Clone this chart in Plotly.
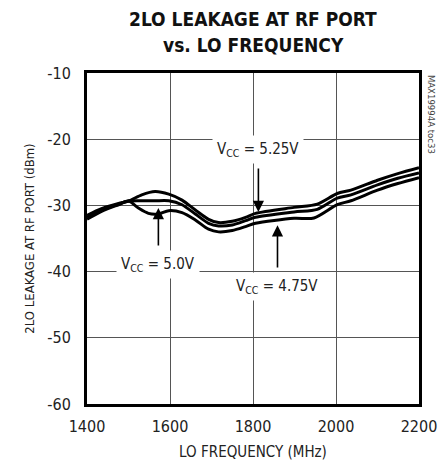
import plotly.graph_objects as go

freq_hi = [1400, 1435, 1476, 1500, 1532, 1564, 1597, 1629, 1661, 1693, 1717, 1750, 1782, 1806, 1899, 1955, 2003, 2036, 2100, 2149, 2200]
vcc_525 = [-31.5, -30.5, -29.7, -29.35, -28.4, -27.9, -28.3, -29.2, -30.7, -32.1, -32.6, -32.4, -31.8, -31.2, -30.3, -29.8, -28.2, -27.7, -26.2, -25.2, -24.3]

freq_mid = [1400, 1435, 1476, 1500, 1532, 1564, 1597, 1629, 1661, 1693, 1717, 1750, 1782, 1806, 1899, 1955, 2003, 2036, 2100, 2149, 2200]
vcc_500 = [-31.8, -30.7, -29.8, -29.35, -29.3, -29.3, -29.3, -29.9, -31.3, -32.7, -33.1, -32.95, -32.3, -31.8, -31.0, -30.6, -28.9, -28.4, -26.9, -25.9, -25.1]

freq_lo = [1400, 1435, 1476, 1500, 1524, 1548, 1572, 1597, 1629, 1661, 1693, 1717, 1750, 1782, 1806, 1899, 1947, 2003, 2036, 2100, 2149, 2200]
vcc_475 = [-32.1, -30.9, -29.9, -29.35, -30.4, -31.2, -31.3, -30.8, -31.1, -32.2, -33.6, -34.0, -33.8, -33.2, -32.7, -31.95, -31.9, -29.9, -29.3, -27.7, -26.7, -25.8]

x_ticks = [1400, 1600, 1800, 2000, 2200]
y_ticks = [-60, -50, -40, -30, -20, -10]
y_tick_text = ["-60", "-50", "-40", "-30", "-20", "-10"]

title_lines = ["2LO LEAKAGE AT RF PORT", "vs. LO FREQUENCY"]

FONT = "DejaVu Sans Condensed, Liberation Sans Narrow, Arial Narrow, Liberation Sans, sans-serif"

fig = go.Figure()
for xs, ys in [(freq_hi, vcc_525), (freq_mid, vcc_500), (freq_lo, vcc_475)]:
    fig.add_trace(go.Scatter(x=xs, y=ys, mode="lines",
                             line=dict(color="black", width=3, shape="spline", smoothing=0.8),
                             showlegend=False, hoverinfo="skip"))

labels = [
    dict(text="V<sub>CC</sub> = 5.25V", x=1813, y=-21.6, tip=(1813, -31.0), tail=(1813, -24.2)),
    dict(text="V<sub>CC</sub> = 5.0V", x=1572, y=-39.0, tip=(1572, -30.4), tail=(1572, -36.3)),
    dict(text="V<sub>CC</sub> = 4.75V", x=1859, y=-42.3, tip=(1859, -33.0), tail=(1859, -39.6)),
]
for lb in labels:
    fig.add_annotation(x=lb["tip"][0], y=lb["tip"][1], ax=lb["tail"][0], ay=lb["tail"][1],
                       axref="x", ayref="y", xref="x", yref="y", text="",
                       showarrow=True, arrowhead=2, arrowsize=1.4, arrowwidth=1.6,
                       arrowcolor="black")
    fig.add_annotation(x=lb["x"], y=lb["y"], xref="x", yref="y", text=lb["text"],
                       showarrow=False, bgcolor="white", borderpad=4,
                       font=dict(family=FONT, size=15, color="#222"))

fig.add_annotation(x=1.038, y=1.0, xref="paper", yref="paper", text="MAX19994A toc33",
                   textangle=90, showarrow=False, xanchor="center", yanchor="top",
                   font=dict(family=FONT, size=9.5, color="#444"))

# title as two centred annotation lines (page body has an 8px default margin)
for txt, py in zip(title_lines, [1.163, 1.085]):
    fig.add_annotation(x=0.5, y=py, xref="paper", yref="paper", text="<b>" + txt + "</b>",
                       showarrow=False, xanchor="center", yanchor="middle",
                       font=dict(family=FONT, size=19, color="#111"))

fig.update_layout(
    width=438, height=453,
    margin=dict(l=79, r=27, t=65, b=57, autoexpand=False),
    paper_bgcolor="white", plot_bgcolor="white",
    font=dict(family=FONT, color="#222"),
)
fig.update_xaxes(range=[1400, 2200], tickvals=x_ticks, ticks="", showgrid=True,
                 gridcolor="#555", gridwidth=1, showline=True, linecolor="black",
                 linewidth=3, mirror=True, zeroline=False, ticklabelstandoff=6,
                 automargin=False,
                 tickfont=dict(family=FONT, size=16, color="#222"),
                 title=dict(text="LO FREQUENCY (MHz)", standoff=12,
                            font=dict(family=FONT, size=15, color="#222")))
fig.update_yaxes(range=[-60, -10], tickvals=y_ticks, ticktext=y_tick_text, ticks="",
                 showgrid=True, gridcolor="#555", gridwidth=1, showline=True,
                 linecolor="black", linewidth=3, mirror=True, zeroline=False,
                 ticklabelstandoff=10, automargin=False,
                 tickfont=dict(family=FONT, size=16, color="#222"),
                 title=dict(text="2LO LEAKAGE AT RF PORT (dBm)", standoff=10,
                            font=dict(family=FONT, size=13, color="#222")))

fig.write_html("out.html")
